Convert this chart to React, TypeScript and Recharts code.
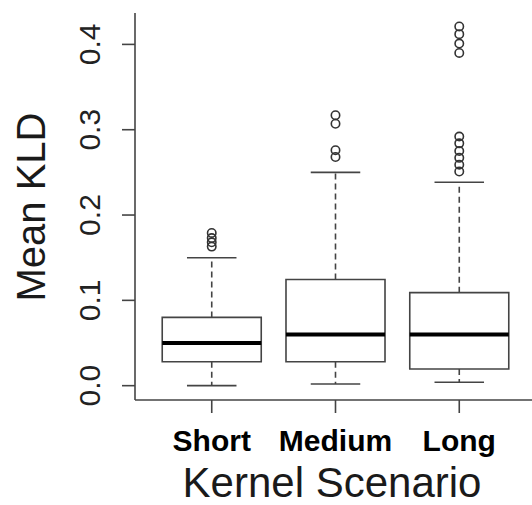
import React from 'react';
import { ComposedChart, XAxis, YAxis, Scatter, ReferenceArea, ReferenceLine, Customized } from 'recharts';

const groups = ['Short', 'Medium', 'Long'];
const positions = [1, 2, 3];
const q1 = [0.028, 0.028, 0.0195];
const medians = [0.05, 0.06, 0.06];
const q3 = [0.08, 0.1245, 0.109];
const whiskerLow = [0.0, 0.002, 0.004];
const whiskerHigh = [0.15, 0.25, 0.2385];
const outliersShort = [0.163, 0.168, 0.173, 0.179];
const outliersMedium = [0.268, 0.276, 0.307, 0.317];
const outliersLong = [0.251, 0.259, 0.267, 0.275, 0.284, 0.292, 0.39, 0.401, 0.412, 0.421];
const yTicks = [0, 0.1, 0.2, 0.3, 0.4];

const FONT = '"Liberation Sans", Arial, Helvetica, sans-serif';
const LINE = '#444';

// outlier points as {x, y}
const outlierData = [outliersShort, outliersMedium, outliersLong].flatMap((vals, i) =>
  vals.map((v) => ({ x: positions[i], y: v }))
);

const YTick = (props: any) => {
  const { x, y, payload } = props;
  const bx = x - 20;
  return (
    <text
      x={bx}
      y={y}
      transform={`rotate(-90, ${bx}, ${y})`}
      textAnchor="middle"
      fontSize={30}
      fontFamily={FONT}
      fill="#222"
    >
      {payload.value.toFixed(1)}
    </text>
  );
};

const Circle = (props: any) => (
  <circle cx={props.cx} cy={props.cy} r={4.2} fill="none" stroke="#333" strokeWidth={1.6} />
);

const Titles = () => (
  <g fontFamily={FONT} fill="#1a1a1a">
    <text x={45} y={207} transform="rotate(-90, 45, 207)" textAnchor="middle" fontSize={40}>
      Mean KLD
    </text>
    <text x={332} y={497} textAnchor="middle" fontSize={42}>
      Kernel Scenario
    </text>
  </g>
);

export default function App() {
  return (
    <div style={{ position: 'absolute', left: 0, top: 0, width: 532, height: 505, overflow: 'hidden', background: '#fff' }}>
      <ComposedChart width={540} height={505} margin={{ top: 13, right: 4, bottom: 0, left: 0 }}>
        <XAxis
          type="number"
          dataKey="x"
          domain={[0.38, 3.62]}
          ticks={positions}
          tickFormatter={(v: number) => groups[v - 1]}
          allowDataOverflow
          height={105}
          tickSize={13}
          tickMargin={17}
          stroke={LINE}
          strokeWidth={1.6}
          tick={{ fontSize: 30, fontWeight: 700, fill: '#000', fontFamily: FONT }}
        />
        <YAxis
          type="number"
          dataKey="y"
          domain={[-0.0168, 0.4368]}
          ticks={yTicks}
          allowDataOverflow
          width={135}
          tickSize={13}
          stroke={LINE}
          strokeWidth={1.6}
          tick={<YTick />}
        />
        <ReferenceArea fill="none" fillOpacity={0} stroke={LINE} strokeWidth={2} ifOverflow="visible" />
        {positions.map((p, i) => (
          <ReferenceArea
            key={`box-${i}`}
            x1={p - 0.4}
            x2={p + 0.4}
            y1={q1[i]}
            y2={q3[i]}
            fill="#fff"
            fillOpacity={1}
            stroke={LINE}
            strokeWidth={1.6}
          />
        ))}
        {positions.map((p, i) => (
          <ReferenceLine
            key={`wu-${i}`}
            segment={[{ x: p, y: q3[i] }, { x: p, y: whiskerHigh[i] }]}
            stroke={LINE}
            strokeWidth={1.6}
            strokeDasharray="6 4"
          />
        ))}
        {positions.map((p, i) => (
          <ReferenceLine
            key={`wl-${i}`}
            segment={[{ x: p, y: q1[i] }, { x: p, y: whiskerLow[i] }]}
            stroke={LINE}
            strokeWidth={1.6}
            strokeDasharray="6 4"
          />
        ))}
        {positions.map((p, i) => (
          <ReferenceLine
            key={`cu-${i}`}
            segment={[{ x: p - 0.2, y: whiskerHigh[i] }, { x: p + 0.2, y: whiskerHigh[i] }]}
            stroke={LINE}
            strokeWidth={1.6}
          />
        ))}
        {positions.map((p, i) => (
          <ReferenceLine
            key={`cl-${i}`}
            segment={[{ x: p - 0.2, y: whiskerLow[i] }, { x: p + 0.2, y: whiskerLow[i] }]}
            stroke={LINE}
            strokeWidth={1.6}
          />
        ))}
        {positions.map((p, i) => (
          <ReferenceLine
            key={`med-${i}`}
            segment={[{ x: p - 0.4, y: medians[i] }, { x: p + 0.4, y: medians[i] }]}
            stroke="#000"
            strokeWidth={4}
          />
        ))}
        <Scatter data={outlierData} shape={<Circle />} isAnimationActive={false} />
        <Customized component={Titles} />
      </ComposedChart>
    </div>
  );
}
